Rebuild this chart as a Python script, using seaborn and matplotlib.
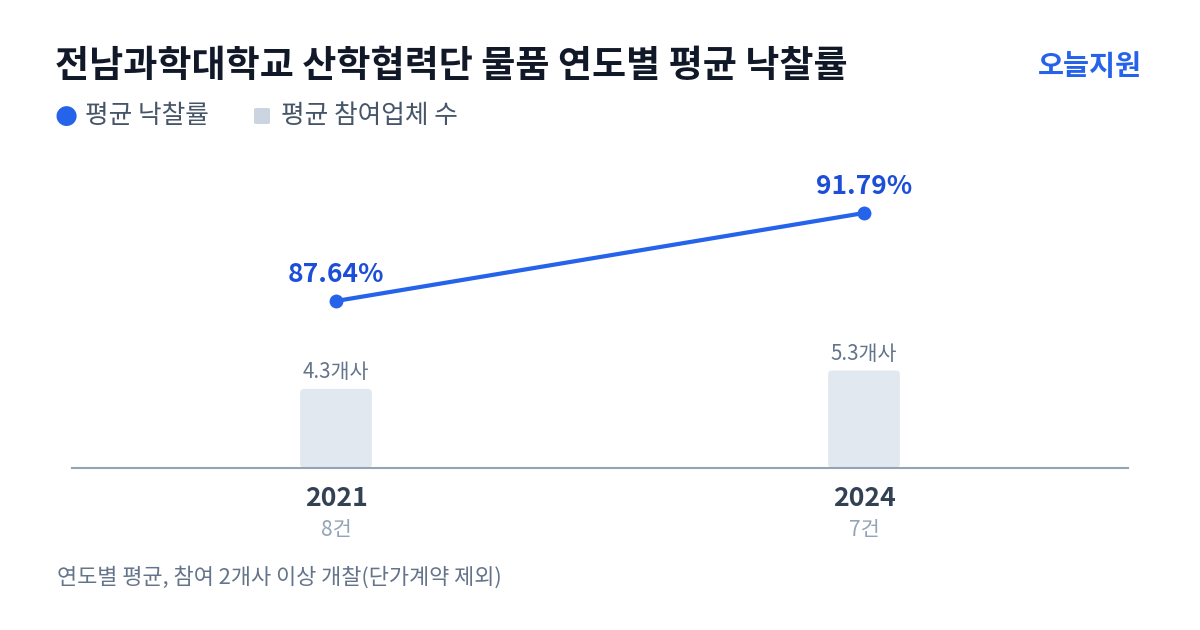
import matplotlib
matplotlib.use("Agg")
import matplotlib.pyplot as plt
from matplotlib.patches import FancyBboxPatch
import seaborn as sns
import pandas as pd

# 데이터
years = ["2021", "2024"]
counts = ["8건", "7건"]
avg_rate = [87.64, 91.79]
avg_bidders = [4.3, 5.3]

title = "전남과학대학교 산학협력단 물품 연도별 평균 낙찰률"
brand = "오늘지원"
legend_labels = ["평균 낙찰률", "평균 참여업체 수"]
footnote = "연도별 평균, 참여 2개사 이상 개찰(단가계약 제외)"

BLUE = "#2563EB"
BLUE_TXT = "#1D4ED8"
BAR = "#E2E8F0"

sns.set_theme(style="white")
plt.rcParams["font.family"] = ["Noto Sans CJK KR", "DejaVu Sans"]

df = pd.DataFrame({"year": years, "rate": avg_rate, "bidders": avg_bidders})
df["pos"] = range(len(df))

W, H = 1200, 630
fig = plt.figure(figsize=(12, 6.3), dpi=100)
ax = fig.add_axes([72 / W, 1 - 468 / H, 1056 / W, 318 / H])

# 막대 (평균 참여업체 수)
sns.barplot(data=df, x="pos", y="bidders", color=BAR, width=0.136,
            saturation=1, ax=ax, native_scale=True)
ax.set_xlim(-0.5, 1.5)
ax.set_ylim(0, 318 / 18.4)

# 둥근 모서리로 바꾸기
px_x = 1056 / 2.0
px_y = 18.4
for p in list(ax.patches):
    x0, y0, w, h = p.get_x(), p.get_y(), p.get_width(), p.get_height()
    p.remove()
    r = 4 / px_x
    fb = FancyBboxPatch((x0, y0), w, h,
                        boxstyle="round,pad=0,rounding_size=%f" % r,
                        mutation_aspect=px_x / px_y,
                        facecolor=BAR, edgecolor="none", zorder=2)
    ax.add_patch(fb)

for i, v in enumerate(avg_bidders):
    ax.text(i, v + 0.3, "%.1f개사" % v, ha="center", va="bottom",
            fontsize=14.8, color="#64748B")

# 선 (평균 낙찰률)
ax2 = ax.twinx()
sns.lineplot(data=df, x="pos", y="rate", ax=ax2, color=BLUE, linewidth=3,
             marker="o", markersize=10, markeredgewidth=0, zorder=5)
lo = avg_rate[0] - 167 / 21.2
ax2.set_ylim(lo, lo + 318 / 21.2)
ax2.set_xlim(-0.5, 1.5)
for i, v in enumerate(avg_rate):
    ax2.text(i, v + 0.6, "%.2f%%" % v, ha="center", va="bottom",
             fontsize=19, fontweight="bold", color=BLUE_TXT)

for a in (ax, ax2):
    a.set_xlabel("")
    a.set_ylabel("")
    a.set_yticks([])
    a.set_xticks([])
    for s in a.spines.values():
        s.set_visible(False)
ax.spines["bottom"].set_visible(True)
ax.spines["bottom"].set_color("#94A3B8")
ax.spines["bottom"].set_linewidth(1.5)

# x 라벨
for i, (y, c) in enumerate(zip(years, counts)):
    ax.text(i, -0.95, y, ha="center", va="top", fontsize=19.2,
            fontweight="bold", color="#334155")
    ax.text(i, -2.75, c, ha="center", va="top", fontsize=15,
            color="#94A3B8")

# 제목, 범례, 각주
fig.text(55 / W, 1 - 77 / H, title, fontsize=26.7, fontweight="bold",
         color="#111827", va="baseline")
fig.text(1142 / W, 1 - 75 / H, brand, fontsize=20.4, fontweight="bold",
         color=BLUE, ha="right", va="baseline")

fig.text(66 / W, 1 - 116 / H, "●", fontsize=19, color=BLUE,
         ha="center", va="center", family=["DejaVu Sans"])
fig.text(85 / W, 1 - 116 / H, legend_labels[0], fontsize=18.5,
         color="#475569", va="center")
fig.patches.append(FancyBboxPatch((254 / W, 1 - 124 / H), 16 / W, 16 / H,
                                  boxstyle="round,pad=0,rounding_size=0.002",
                                  transform=fig.transFigure, figure=fig,
                                  facecolor="#CBD5E1", edgecolor="none"))
fig.text(281 / W, 1 - 116 / H, legend_labels[1], fontsize=18.5,
         color="#475569", va="center")

fig.text(57 / W, 1 - 577 / H, footnote, fontsize=15.8, color="#64748B",
         va="center")

fig.savefig("out.png", dpi=100, facecolor="white")
